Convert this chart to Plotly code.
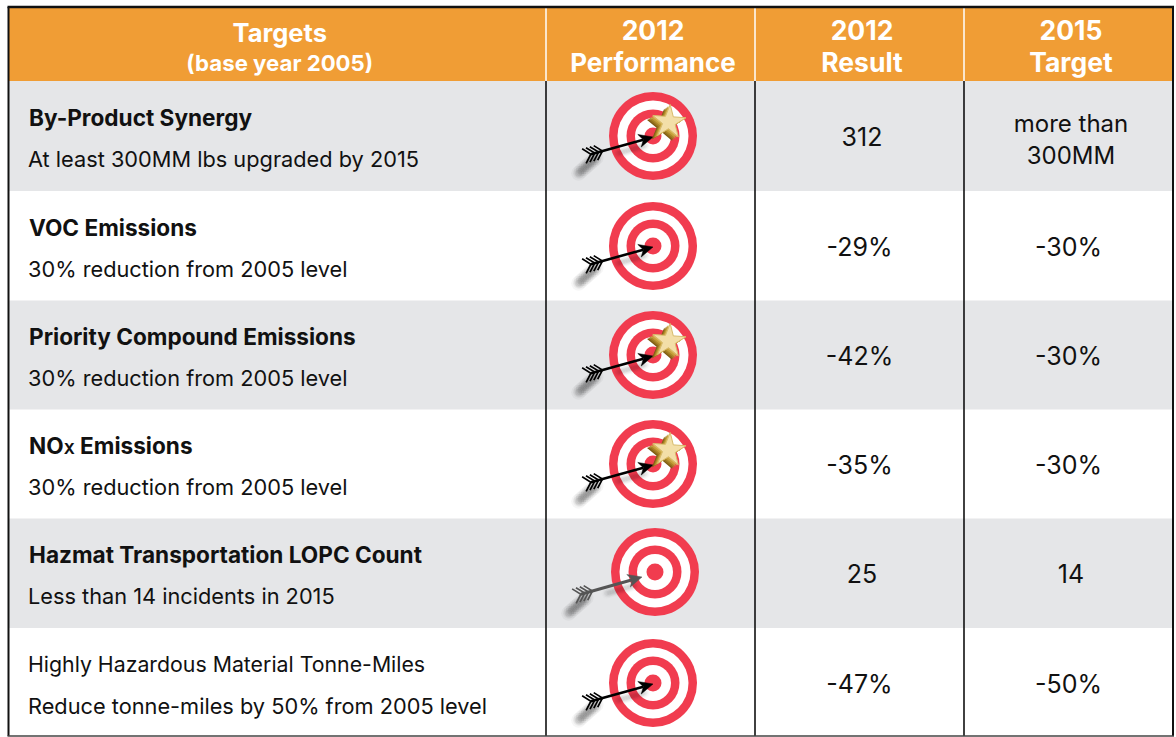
import math
import plotly.graph_objects as go

FONT = "Inter"
# ---------- table content ----------
headers = ["Targets", "2012<br>Performance", "2012<br>Result", "2015<br>Target"]
header_sub = "(base year 2005)"
titles = ["By-Product Synergy", "VOC Emissions", "Priority Compound Emissions",
          'NO<span style="font-size:15px">X</span> Emissions', "Hazmat Transportation LOPC Count",
          "Highly Hazardous Material Tonne-Miles"]
title_bold = [True, True, True, True, True, False]
descriptions = ["At least 300MM lbs upgraded by 2015", "30% reduction from 2005 level",
                "30% reduction from 2005 level", "30% reduction from 2005 level",
                "Less than 14 incidents in 2015", "Reduce tonne-miles by 50% from 2005 level"]
results = ["312", "-29%", "-42%", "-35%", "25", "-47%"]
targets = ["more than<br>300MM", "-30%", "-30%", "-30%", "14", "-50%"]
has_star = [True, False, True, True, False, False]
arrow_grey = [False, False, False, False, True, False]

# ---------- layout ----------
W, H = 1176, 737
col_edges = [8.5, 546, 755, 964, 1173]
row_edges = [81, 191, 300.5, 409.5, 518.5, 628, 736]
header_top = 7
ORANGE, GREY, RED = "#f09d35", "#e5e6e8", "#f13c4f"
ring_radii = [44, 35.5, 26.5, 18, 8.5]

shapes = [dict(type="rect", x0=col_edges[0], x1=col_edges[-1], y0=header_top, y1=row_edges[0],
               fillcolor=ORANGE, line_width=0, layer="below")]
for i in range(6):
    if i % 2 == 0:
        shapes.append(dict(type="rect", x0=col_edges[0], x1=col_edges[-1], y0=row_edges[i],
                           y1=row_edges[i + 1], fillcolor=GREY, line_width=0, layer="below"))
for x in col_edges[1:-1]:
    shapes.append(dict(type="line", x0=x, x1=x, y0=header_top, y1=row_edges[0],
                       line=dict(color="#ffffff", width=1.5), layer="below"))
    shapes.append(dict(type="line", x0=x, x1=x, y0=row_edges[0], y1=row_edges[-1],
                       line=dict(color="#111111", width=1.6), layer="below"))
for x in (col_edges[0], col_edges[-1]):
    shapes.append(dict(type="line", x0=x, x1=x, y0=header_top, y1=row_edges[-1],
                       line=dict(color="#111111", width=2), layer="below"))
shapes.append(dict(type="line", x0=col_edges[0] - 1, x1=col_edges[-1] + 1, y0=header_top, y1=header_top,
                   line=dict(color="#111111", width=2.4), layer="below"))
shapes.append(dict(type="line", x0=col_edges[0] - 1, x1=col_edges[-1] + 1, y0=row_edges[-1], y1=row_edges[-1],
                   line=dict(color="#444444", width=1.6), layer="below"))

fig = go.Figure()
centers_y = [136, 246, 355, 464, 572, 683]
centers_x = [653, 653, 653, 653, 655, 653]
text_y = [136, 246, 355, 464, 573, 683]


def line(xs, ys, color, width):
    fig.add_trace(go.Scatter(x=xs, y=ys, mode="lines", line=dict(color=color, width=width, shape="linear"),
                             hoverinfo="skip", showlegend=False))


def blob(xs, ys, size, alpha):
    fig.add_trace(go.Scatter(x=xs, y=ys, mode="markers", hoverinfo="skip", showlegend=False,
                             marker=dict(size=size, color=f"rgba(0,0,0,{alpha})", line_width=0)))


for cx, cy, star, grey in zip(centers_x, centers_y, has_star, arrow_grey):
    # target rings
    fig.add_trace(go.Scatter(x=[cx] * 5, y=[cy] * 5, mode="markers", hoverinfo="skip", showlegend=False,
                             marker=dict(size=[2 * r for r in ring_radii], line_width=0, opacity=1,
                                         color=[RED, "#ffffff", RED, "#ffffff", RED])))
    # arrow geometry
    if grey:
        tip, tail, col, sw = (cx - 13, cy + 5), (cx - 77, cy + 23), "#555555", 3
    else:
        tip, tail, col, sw = (cx, cy + 1), (cx - 65, cy + 19), "#000000", 2.6
    dx, dy = tip[0] - tail[0], tip[1] - tail[1]
    L = math.hypot(dx, dy)
    ux, uy = dx / L, dy / L
    nx, ny = -uy, ux
    # soft shadows
    sx, sy = tail[0] - 3, tail[1] + 7
    for s, a in ((15, .035), (11, .05), (7, .07)):
        px = [sx + 1.6 * k + (k + 4) * .9 for k in range(-4, 4)]
        py = [sy + 1.4 * -k + 1.6 * (k + 4) * 0 + (3 - k) * .8 for k in range(-4, 4)]
        blob(px, py, s, a)
    for s, a in ((11, .012), (8, .02), (5, .03)):
        n = 12
        px = [tip[0] - ux * (6 + 2.6 * k) - 2 for k in range(n)]
        py = [tip[1] - uy * (6 + 2.6 * k) + 7 for k in range(n)]
        blob(px, py, s, a)
    # shaft
    line([tail[0] + ux * 3, tip[0] - ux * 10], [tail[1] + uy * 3, tip[1] - uy * 10], col, sw)
    # fletching chevrons
    for k in range(4):
        bx, by = tail[0] + ux * (15 - k * 4), tail[1] + uy * (15 - k * 4)
        line([bx - ux * 7 + nx * 7.5, bx, bx - ux * 7 - nx * 7.5],
             [by - uy * 7 + ny * 7.5, by, by - uy * 7 - ny * 7.5], col, 1.7)
    # arrow head
    hx = [tip[0], tip[0] - ux * 14 + nx * 6.5, tip[0] - ux * 10, tip[0] - ux * 14 - nx * 6.5, tip[0]]
    hy = [tip[1], tip[1] - uy * 14 + ny * 6.5, tip[1] - uy * 10, tip[1] - uy * 14 - ny * 6.5, tip[1]]
    fig.add_trace(go.Scatter(x=hx, y=hy, mode="lines", fill="toself", fillcolor=col, line=dict(color=col, width=.5),
                             hoverinfo="skip", showlegend=False))
    # gold star
    if star:
        sxc, syc = cx + 16, cy - 14
        for off, c in ((6, "#7d5a12"), (5, "#94701c"), (3.8, "#ab8628"), (2.5, "#c5a03c"), (1, "#d8b95c")):
            fig.add_trace(go.Scatter(x=[sxc - off], y=[syc + off * .7], mode="markers", hoverinfo="skip",
                                     showlegend=False,
                                     marker=dict(symbol="star", size=25, color=c, angle=4, line_width=0)))
        fig.add_trace(go.Scatter(x=[sxc], y=[syc], mode="markers", hoverinfo="skip", showlegend=False,
                                 marker=dict(symbol="star", size=25, color="#f3dfa8", angle=4,
                                             line=dict(color="#d8bb6a", width=1))))


def text(xs, ys, labels, size, color="#111111", pos="middle center"):
    fig.add_trace(go.Scatter(x=xs, y=ys, mode="text", text=labels, textposition=pos, hoverinfo="skip",
                             showlegend=False, textfont=dict(family=FONT, size=size, color=color)))


col_mid = [(col_edges[i] + col_edges[i + 1]) / 2 + 2.5 for i in range(4)]
# header
text([col_mid[0]], [36], [f"<b>{headers[0]}</b>"], 25.5, "#ffffff")
text([col_mid[0]], [65], [f"<b>{header_sub}</b>"], 22.2, "#ffffff")
for i in (1, 2, 3):
    top, bot = headers[i].split("<br>")
    text([col_mid[i]], [33], [f"<b>{top}</b>"], 26.5, "#ffffff")
    text([col_mid[i]], [65], [f"<b>{bot}</b>"], 26 if i == 1 else 26.5, "#ffffff")
# body
for i in range(6):
    label = f"<b>{titles[i]}</b>" if title_bold[i] else titles[i]
    sz = 22.6 if title_bold[i] else 21.3
    text([29 if title_bold[i] else 28], [text_y[i] - 16], [label], sz, pos="middle right")
    text([28], [text_y[i] + 26], [descriptions[i]], 21.75, pos="middle right")
    nudge = -2.5 if results[i].startswith("-") else 0
    text([col_mid[2] + nudge], [text_y[i] + 4], [results[i]], 25)
    parts = targets[i].split("<br>")
    if len(parts) == 2:
        text([col_mid[3]], [text_y[i] - 10.5], [parts[0]], 24)
        text([col_mid[3]], [text_y[i] + 21.5], [parts[1]], 24)
    else:
        nudge = -2.5 if parts[0].startswith("-") else 0
        text([col_mid[3] + nudge], [text_y[i] + 4], [parts[0]], 25)

fig.update_layout(width=W, height=H, margin=dict(l=0, r=0, t=0, b=0), paper_bgcolor="#ffffff",
                  plot_bgcolor="#ffffff", shapes=shapes, showlegend=False,
                  xaxis=dict(range=[0, W], visible=False, fixedrange=True),
                  yaxis=dict(range=[H, 0], visible=False, fixedrange=True))
fig.write_html("out.html", config={"displayModeBar": False},
               post_script="document.body.style.margin='0';")
